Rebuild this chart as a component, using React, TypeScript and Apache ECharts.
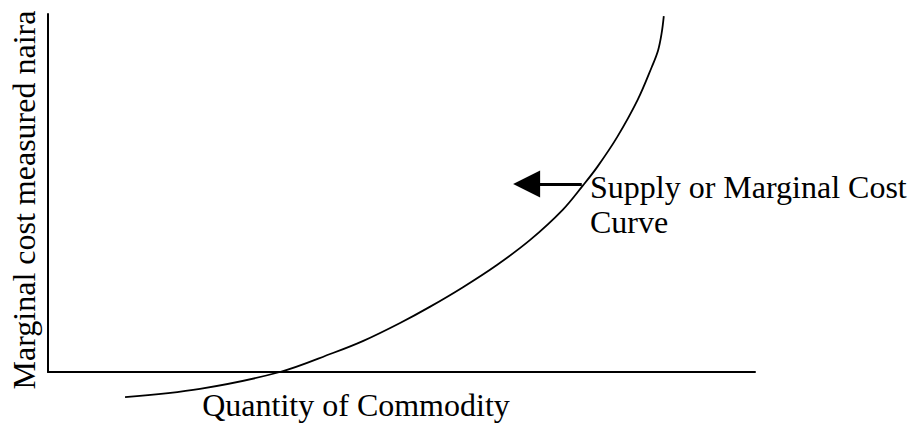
import React, { useEffect, useRef } from "react";
import * as echarts from "echarts";

// Supply / marginal cost curve (quantity 0–100, cost 0–100)
const curveQuantity = [10.9, 21.5, 32.8, 40.3, 44.6, 49.8, 54.0, 58.7, 63.5, 68.2, 72.8, 75.7, 77.7, 80.5, 83.4, 85.4, 86.3, 86.8, 87.1];
const curveCost = [-7.0, -4.7, 0, 5.3, 8.7, 13.7, 18.2, 23.7, 29.9, 36.9, 45.3, 52.2, 57.3, 65.6, 76.0, 85.2, 89.9, 94.7, 99.4];

const xAxisTitle = "Quantity of Commodity";
const yAxisTitle = "Marginal cost measured naira";
const curveLabel = "Supply or Marginal Cost\nCurve";

// Arrow pointing at the curve (from, to) in data units
const arrowFrom = [75.5, 52.5];
const arrowTo = [67.7, 52.5];

const FONT = '32px "Liberation Serif", "Times New Roman", serif';

export default function App() {
  const ref = useRef<HTMLDivElement>(null);
  useEffect(() => {
    if (!ref.current) return;
    const chart = echarts.init(ref.current, undefined, { renderer: "svg" });
    const data = curveQuantity.map((q, i) => [q, curveCost[i]]);
    chart.setOption({
      animation: false,
      backgroundColor: "#ffffff",
      grid: { left: 48, right: 157, top: 14, bottom: 56 },
      xAxis: {
        type: "value",
        min: 0,
        max: 100,
        axisLine: { show: true, onZero: false, lineStyle: { color: "#000", width: 2 } },
        axisTick: { show: false },
        axisLabel: { show: false },
        splitLine: { show: false },
      },
      yAxis: {
        type: "value",
        min: 0,
        max: 100,
        axisLine: { show: true, onZero: false, lineStyle: { color: "#000", width: 2 } },
        axisTick: { show: false },
        axisLabel: { show: false },
        splitLine: { show: false },
      },
      series: [
        {
          type: "line",
          data,
          smooth: 0.35,
          clip: false,
          showSymbol: false,
          symbol: "none",
          silent: true,
          lineStyle: { color: "#000", width: 1.8 },
          markLine: {
            silent: true,
            symbol: ["none", "triangle"],
            symbolSize: [27, 27],
            label: { show: false },
            lineStyle: { color: "#000", width: 3, type: "solid" },
            itemStyle: { color: "#000" },
            data: [[{ coord: arrowFrom }, { coord: arrowTo }]],
          },
        },
      ],
      graphic: [
        {
          type: "text",
          left: 590,
          top: 169,
          style: { text: curveLabel, font: FONT, lineHeight: 35, fill: "#000" },
        },
        {
          type: "text",
          x: 356,
          y: 405,
          style: { text: xAxisTitle, font: FONT, fill: "#000", align: "center", verticalAlign: "middle" },
        },
        {
          type: "text",
          x: 24,
          y: 200,
          rotation: Math.PI / 2,
          style: { text: yAxisTitle, font: FONT, fill: "#000", align: "center", verticalAlign: "middle" },
        },
      ],
    });
    return () => chart.dispose();
  }, []);
  return <div ref={ref} style={{ position: "fixed", left: 0, top: 0, width: 912, height: 428 }} />;
}
